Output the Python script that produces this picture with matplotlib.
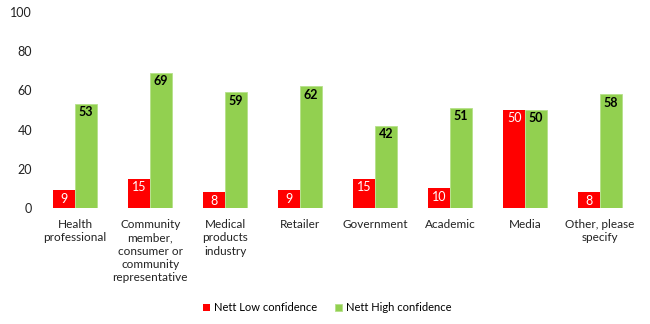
import numpy as np
import matplotlib
matplotlib.use("Agg")
from matplotlib import pyplot as plt

categories = ["Health\nprofessional",
              "Community\nmember,\nconsumer or\ncommunity\nrepresentative",
              "Medical\nproducts\nindustry", "Retailer", "Government",
              "Academic", "Media", "Other, please\nspecify"]
low_conf = [9, 15, 8, 9, 15, 10, 50, 8]
high_conf = [53, 69, 59, 62, 42, 51, 50, 58]

RED = "#FF0000"
GREEN = "#92D050"

plt.rcParams["font.family"] = ["Lato", "DejaVu Sans"]

fig = plt.figure(figsize=(6.5, 3.24), dpi=100)
ax = fig.add_axes([0.058, 0.358, 0.923, 0.605])

x = np.arange(len(categories))
w = 0.29
bars_low = ax.bar(x - w / 2, low_conf, w, color=RED, label="Nett Low confidence")
bars_high = ax.bar(x + w / 2, high_conf, w, color=GREEN, edgecolor="#b5e08a",
                   linewidth=0.6, label="Nett High confidence")

# value labels inside the top of each bar
for b, v in zip(bars_low, low_conf):
    ax.text(b.get_x() + b.get_width() / 2, v - 1.2, str(v), ha="center", va="top",
            color="white", fontsize=9)
for b, v in zip(bars_high, high_conf):
    ax.text(b.get_x() + b.get_width() / 2, v - 1.2, str(v), ha="center", va="top",
            color="black", fontsize=9, fontweight="bold")

ax.set_xlim(-0.5, len(categories) - 0.5)
ax.set_ylim(0, 100)
ax.set_yticks([0, 20, 40, 60, 80, 100])
ax.set_xticks(x)
ax.set_xticklabels(categories, fontsize=8.5, linespacing=1.25)
ax.tick_params(axis="y", length=0, labelsize=9, colors="#222222", pad=4)
ax.tick_params(axis="x", length=0, colors="#222222", pad=8)
for s in ax.spines.values():
    s.set_visible(False)

fig.legend(loc="center", bbox_to_anchor=(0.503, 0.05), ncol=2, frameon=False,
           fontsize=8, handlelength=0.7, handleheight=0.7, handletextpad=0.3,
           columnspacing=1.6)

fig.savefig("out.png", dpi=100)
